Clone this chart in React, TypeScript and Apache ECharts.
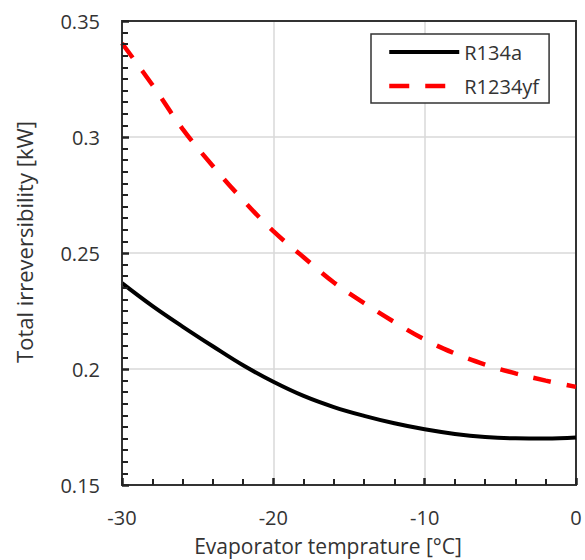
import React, { useEffect, useRef } from "react";
import * as echarts from "echarts";

const temperatures = [-30, -28, -26, -24, -22, -20, -18, -16, -14, -12, -10, -8, -6, -4, -2, 0];
const r134a = [0.237, 0.2272, 0.2183, 0.2098, 0.2016, 0.1945, 0.1884, 0.1836, 0.1798, 0.1766, 0.174, 0.172, 0.1707, 0.1701, 0.17, 0.1705];
const r1234yf = [0.3404, 0.3225, 0.3035, 0.2875, 0.2728, 0.2594, 0.2482, 0.2373, 0.2284, 0.2202, 0.2127, 0.2067, 0.2019, 0.1981, 0.195, 0.1923];
const seriesNames = ["R134a", "R1234yf"];
const xTitle = "Evaporator temprature [°C]";
const yTitle = "Total irreversibility [kW]";

const FONT = "'Open Sans', 'Noto Sans', sans-serif";

export default function App() {
  const ref = useRef<HTMLDivElement>(null);
  useEffect(() => {
    if (!ref.current) return;
    const chart = echarts.init(ref.current, undefined, { renderer: "svg" });
    const pair = (ys: number[]) => temperatures.map((t, i) => [t, ys[i]]);
    const gridRect = { left: 122, top: 21, right: 9, bottom: 75 };
    const frameAxis = {
      axisLine: { show: true, onZero: false, lineStyle: { color: "#333", width: 2 } },
      axisTick: { show: false },
      minorTick: { show: false },
      axisLabel: { show: false },
      splitLine: { show: false },
    };
    chart.setOption({
      animation: false,
      grid: [gridRect, { ...gridRect, z: 10 }],
      legend: {
        orient: "vertical",
        left: 371,
        top: 34,
        padding: [8, 10, 7, 16],
        itemWidth: 70,
        itemHeight: 14,
        itemGap: 14,
        borderColor: "#333",
        borderWidth: 1.5,
        backgroundColor: "#fff",
        itemStyle: { opacity: 0 },
        textStyle: { fontFamily: FONT, fontSize: 20, lineHeight: 20, color: "#333" },
        data: [
          { name: seriesNames[0], itemStyle: { opacity: 0 }, lineStyle: { color: "#000", width: 4, type: "solid" } },
          { name: seriesNames[1], itemStyle: { opacity: 0 }, lineStyle: { color: "#ff0000", width: 4.5, type: [20, 16] } },
        ],
      },
      xAxis: [
        {
          type: "value",
          gridIndex: 0,
          min: -30,
          max: 0,
          interval: 10,
          axisLine: { show: true, onZero: false, lineStyle: { color: "#333", width: 2 } },
          splitLine: { show: true, lineStyle: { color: "#d9d9d9", width: 1.5 } },
          axisTick: { show: false },
          minorTick: { show: false },
          axisLabel: { margin: 22, fontFamily: FONT, fontSize: 20, color: "#333" },
        },
        { type: "value", gridIndex: 0, position: "top", min: -30, max: 0, interval: 10, ...frameAxis },
        {
          type: "value",
          gridIndex: 1,
          position: "bottom",
          min: -30,
          max: 0,
          interval: 10,
          z: 10,
          axisLine: { show: true, onZero: false, lineStyle: { color: "#333", width: 2 } },
          axisTick: { show: true, inside: true, length: 7, lineStyle: { color: "#222", width: 2.5 } },
          minorTick: { show: true, splitNumber: 5, length: 6, lineStyle: { color: "#222", width: 2 } },
          axisLabel: { show: false },
          splitLine: { show: false },
        },
      ],
      yAxis: [
        {
          type: "value",
          gridIndex: 0,
          min: 0.15,
          max: 0.35,
          interval: 0.05,
          axisLine: { show: true, onZero: false, lineStyle: { color: "#333", width: 2 } },
          splitLine: { show: true, lineStyle: { color: "#d9d9d9", width: 1.5 } },
          axisTick: { show: false },
          minorTick: { show: false },
          axisLabel: { margin: 22, fontFamily: FONT, fontSize: 20, color: "#333" },
        },
        { type: "value", gridIndex: 0, position: "right", min: 0.15, max: 0.35, interval: 0.05, ...frameAxis },
        {
          type: "value",
          gridIndex: 1,
          position: "left",
          min: 0.15,
          max: 0.35,
          interval: 0.05,
          z: 10,
          axisLine: { show: true, onZero: false, lineStyle: { color: "#333", width: 2 } },
          axisTick: { show: true, inside: true, length: 7, lineStyle: { color: "#222", width: 2.5 } },
          minorTick: { show: true, splitNumber: 10, length: 6, lineStyle: { color: "#222", width: 2 } },
          axisLabel: { show: false },
          splitLine: { show: false },
        },
      ],
      graphic: [
        {
          type: "text",
          x: 328,
          y: 546,
          style: {
            text: xTitle,
            fontFamily: FONT,
            fontSize: 21,
            lineHeight: 22,
            fill: "#333",
            textAlign: "center",
            textVerticalAlign: "middle",
          },
        },
        {
          type: "text",
          x: 24,
          y: 242,
          rotation: Math.PI / 2,
          style: {
            text: yTitle,
            fontFamily: FONT,
            fontSize: 22,
            fill: "#333",
            textAlign: "center",
            textVerticalAlign: "middle",
          },
        },
      ],
      series: [
        {
          name: seriesNames[0],
          type: "line",
          xAxisIndex: 0,
          yAxisIndex: 0,
          data: pair(r134a),
          smooth: 0.4,
          symbol: "none",
          lineStyle: { color: "#000", width: 4 },
          itemStyle: { color: "#000" },
        },
        {
          name: seriesNames[1],
          type: "line",
          xAxisIndex: 0,
          yAxisIndex: 0,
          data: pair(r1234yf),
          smooth: 0.4,
          symbol: "none",
          lineStyle: { color: "#ff0000", width: 4.5, type: [18, 16] },
          itemStyle: { color: "#ff0000" },
        },
      ],
    });
    return () => chart.dispose();
  }, []);
  return (
    <div
      ref={ref}
      style={{ position: "fixed", left: 0, top: 0, width: 585, height: 560, background: "#fff" }}
    />
  );
}
